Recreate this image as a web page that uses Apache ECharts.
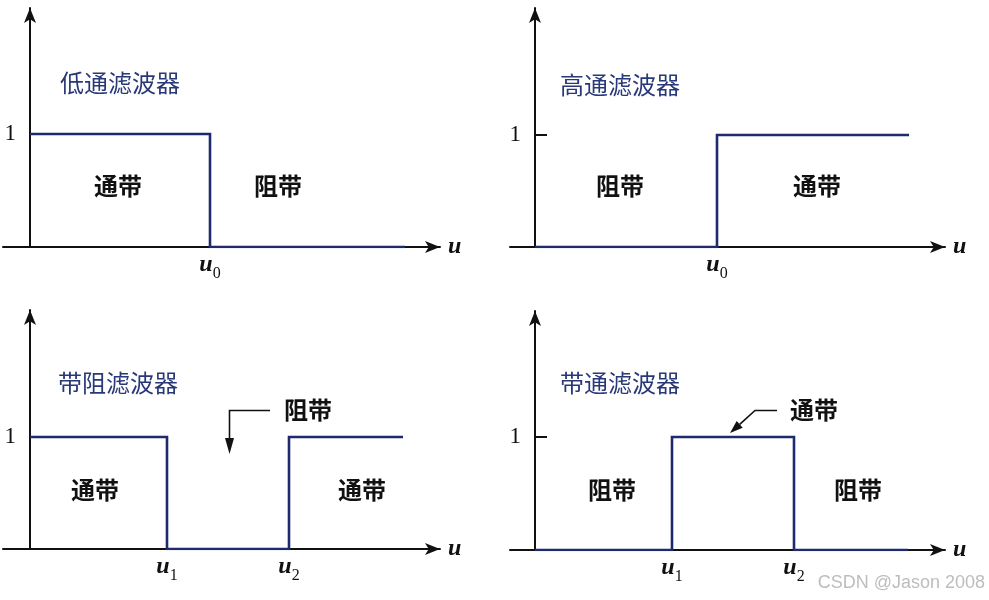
<!DOCTYPE html>
<html>
<head>
    <meta charset="utf-8" />
    <title>滤波器</title>
    <style>
        html, body { margin: 0; padding: 0; background: #fff; }
        #charts { width: 989px; height: 600px; }
    </style>
</head>
<body>
    <div id="charts"></div>
    <script src="https://cdn.jsdelivr.net/npm/echarts@6/dist/echarts.min.js"></script>
    <script type="text/javascript">
        // 四种滤波器的传递函数（阶跃线）
        var lowPass = [[0, 1], [18, 1], [18, 0], [37.5, 0]];
        var highPass = [[0, 0], [18.2, 0], [18.2, 1], [37.4, 1]];
        var bandStop = [[0, 1], [13.7, 1], [13.7, 0], [25.9, 0], [25.9, 1], [37.3, 1]];
        var bandPass = [[0, 0], [13.7, 0], [13.7, 1], [25.9, 1], [25.9, 0], [37.3, 0]];
        // 横轴截止频率刻度与下标
        var cutoffs = [[18], [18.2], [13.7, 25.9], [13.7, 25.9]];
        var cutoffSubs = [['0'], ['0'], ['1', '2'], ['1', '2']];
        var yTicks = [1];
        var titles = ['低通滤波器', '高通滤波器', '带阻滤波器', '带通滤波器'];

        var lineColor = '#1f2a6e';
        var serif = 'Liberation Serif';
        var cjk = 'Noto Sans CJK SC';

        var myChart = echarts.init(document.getElementById('charts'));

        // 每个子图的网格位置
        var grids = [
            { left: 3, top: 8, width: 437, height: 239, outerBoundsMode: 'none', containLabel: false },
            { left: 510, top: 8, width: 435, height: 239, outerBoundsMode: 'none', containLabel: false },
            { left: 3, top: 310, width: 437, height: 239, outerBoundsMode: 'none', containLabel: false },
            { left: 510, top: 311, width: 435, height: 239, outerBoundsMode: 'none', containLabel: false }
        ];
        var xMin = [-2.7, -2.5, -2.7, -2.5];
        var xMax = [41, 41, 41, 41];
        var yOffset = [-27, -25, -27, -25]; // 纵轴从网格左缘向右移到 x=0
        var yMax = [2.115, 2.134, 2.134, 2.115];
        var showTick = [false, true, false, true];
        var series = [lowPass, highPass, bandStop, bandPass];

        var xAxes = [], yAxes = [], seriesList = [];
        for (var i = 0; i < 4; i++) {
            (function (k) {
                xAxes.push({
                    type: 'value', gridIndex: k, min: xMin[k], max: xMax[k],
                    name: 'u', nameLocation: 'end', nameGap: 8,
                    nameTextStyle: { fontFamily: serif, fontStyle: 'italic', fontWeight: 'bold', fontSize: 24, color: '#111', verticalAlign: 'middle', padding: [0, 0, 6, 0] },
                    axisLine: { onZero: false, symbol: ['none', 'arrow'], symbolSize: [9, 15], lineStyle: { color: '#111', width: 2 } },
                    axisTick: { show: false },
                    splitLine: { show: false },
                    axisLabel: {
                        customValues: cutoffs[k], margin: 6,
                        formatter: function (v) {
                            var idx = cutoffs[k].indexOf(v);
                            return '{u|u}{s|' + cutoffSubs[k][idx] + '}';
                        },
                        rich: {
                            u: { fontFamily: serif, fontStyle: 'italic', fontWeight: 'bold', fontSize: 24, color: '#111', verticalAlign: 'bottom', padding: [0, 0, 5, 0] },
                            s: { fontFamily: serif, fontSize: 16, color: '#111', verticalAlign: 'bottom' }
                        }
                    }
                });
                yAxes.push({
                    type: 'value', gridIndex: k, min: 0, max: yMax[k], offset: yOffset[k],
                    axisLine: { onZero: false, symbol: ['none', 'arrow'], symbolSize: [9, 15], lineStyle: { color: '#111', width: 2 } },
                    axisTick: { show: showTick[k], inside: true, length: 12, customValues: yTicks, lineStyle: { color: '#111', width: 2 } },
                    splitLine: { show: false },
                    axisLabel: { customValues: yTicks, margin: 14, fontFamily: serif, fontSize: 23, color: '#111' }
                });
                seriesList.push({
                    type: 'line', xAxisIndex: k, yAxisIndex: k, data: series[k],
                    symbol: 'none', silent: true,
                    lineStyle: { color: lineColor, width: 2.6, join: 'miter' }
                });
            })(i);
        }

        function label(text, x, y, opt) {
            opt = opt || {};
            return {
                type: 'text', x: x, y: y, silent: true,
                style: {
                    text: text, align: opt.align || 'center', verticalAlign: 'middle',
                    font: (opt.weight || 'bold') + ' ' + (opt.size || 24) + 'px "' + (opt.family || cjk) + '"',
                    fill: opt.color || '#111'
                }
            };
        }
        var titleOpt = { align: 'left', weight: 'normal', color: '#283878' };

        var graphics = [
            label(titles[0], 60, 83, titleOpt),
            label(titles[1], 560, 85, titleOpt),
            label(titles[2], 58, 383, titleOpt),
            label(titles[3], 560, 383, titleOpt),
            label('通带', 118, 186), label('阻带', 278, 186),
            label('阻带', 620, 186), label('通带', 817, 186),
            label('通带', 95, 490), label('通带', 362, 490), label('阻带', 308, 410),
            label('阻带', 612, 490), label('阻带', 858, 490), label('通带', 814, 410),
            // 带阻注释箭头
            { type: 'polyline', silent: true, shape: { points: [[270, 410.5], [229.5, 410.5], [229.5, 442]] }, style: { stroke: '#111', lineWidth: 1.6, fill: null } },
            { type: 'polygon', silent: true, shape: { points: [[225, 438], [234, 438], [229.5, 454]] }, style: { fill: '#111' } },
            // 带通注释箭头
            { type: 'polyline', silent: true, shape: { points: [[777, 410.5], [755, 410.5], [739.7, 424.3]] }, style: { stroke: '#111', lineWidth: 1.6, fill: null } },
            { type: 'polygon', silent: true, shape: { points: [[730, 433], [742.7, 427.7], [736.7, 421]] }, style: { fill: '#111' } },
            label('CSDN @Jason 2008', 985, 583, { align: 'right', weight: 'normal', size: 18, family: 'Liberation Sans', color: '#bdbdbd' })
        ];

        var option = {
            backgroundColor: '#fff',
            animation: false,
            grid: grids,
            xAxis: xAxes,
            yAxis: yAxes,
            series: seriesList,
            graphic: graphics
        };
        myChart.setOption(option);
    </script>
</body>
</html>
